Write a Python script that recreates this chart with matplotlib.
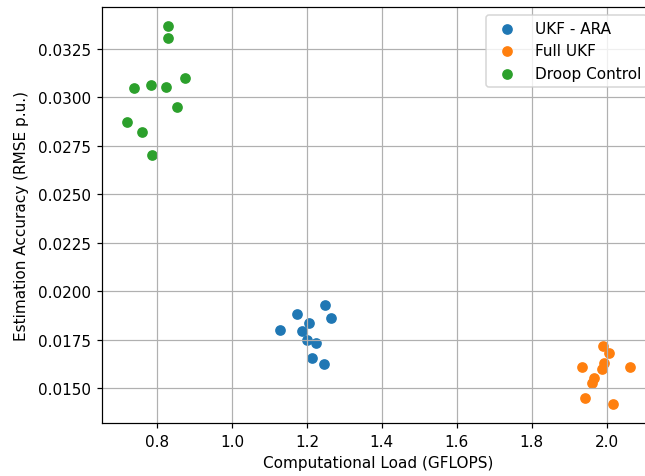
import matplotlib
matplotlib.use("Agg")
import matplotlib.pyplot as plt

# UKF - ARA
ara_load = [1.248, 1.174, 1.263, 1.205, 1.127, 1.186, 1.200, 1.224, 1.214, 1.246]
ara_rmse = [0.01929, 0.01882, 0.01862, 0.01836, 0.01800, 0.01793, 0.01747, 0.01733, 0.01658, 0.01625]

# Full UKF
full_load = [1.990, 2.007, 1.994, 1.988, 1.934, 2.062, 1.966, 1.962, 1.943, 2.016]
full_rmse = [0.01718, 0.01684, 0.01629, 0.01601, 0.01608, 0.01608, 0.01553, 0.01526, 0.01450, 0.01418]

# Droop Control
droop_load = [0.828, 0.830, 0.875, 0.738, 0.785, 0.824, 0.854, 0.720, 0.761, 0.787]
droop_rmse = [0.03368, 0.03308, 0.03099, 0.03048, 0.03065, 0.03053, 0.02948, 0.02873, 0.02821, 0.02701]

dpi = 110
fig = plt.figure(figsize=(645 / dpi, 477 / dpi), dpi=dpi)
ax = fig.add_axes([102 / 645, 53 / 477, 553 / 645, 416 / 477])

ax.scatter(ara_load, ara_rmse, label="UKF - ARA")
ax.scatter(full_load, full_rmse, label="Full UKF")
ax.scatter(droop_load, droop_rmse, label="Droop Control")

ax.set_xlabel("Computational Load (GFLOPS)")
ax.set_ylabel("Estimation Accuracy (RMSE p.u.)", labelpad=6)
ax.grid(True)
ax.legend(loc="upper right")

fig.savefig("out.png", dpi=dpi)
